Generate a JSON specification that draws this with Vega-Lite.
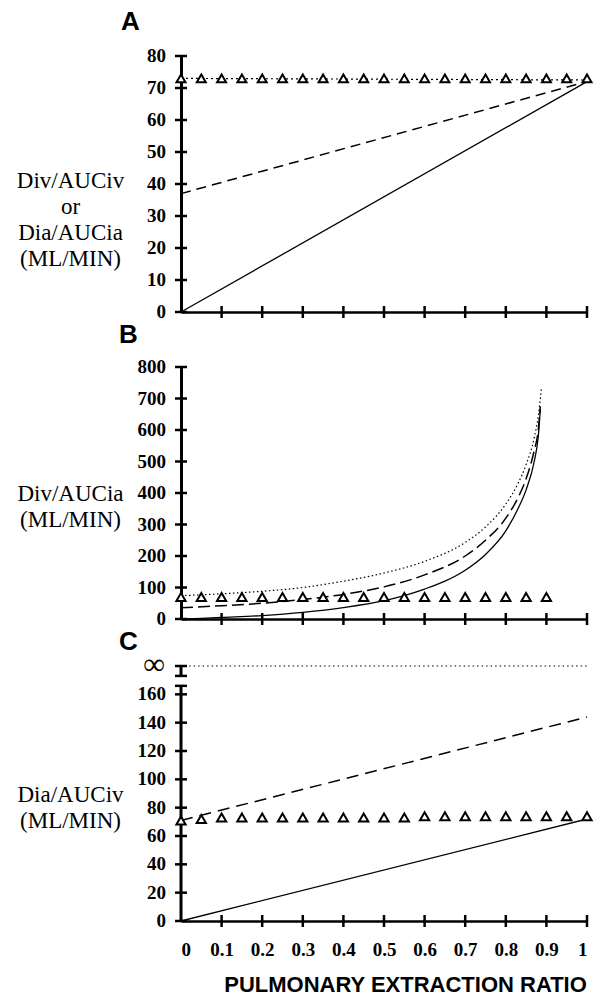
{
  "$schema": "https://vega.github.io/schema/vega-lite/v6.json",
  "background": "white",
  "padding": {"left": 16, "top": 9, "right": 5, "bottom": 0},
  "config": {"view": {"stroke": null}},
  "spacing": 0,
  "datasets": {
    "A": [
      {"e": 0, "v": 0, "s": "solid"}, {"e": 1, "v": 72, "s": "solid"},
      {"e": 0, "v": 37, "s": "dashed"}, {"e": 1, "v": 72, "s": "dashed"},
      {"e": 0, "v": 73, "s": "dotted"}, {"e": 1, "v": 72.5, "s": "dotted"},
      {"e": 0, "v": 73, "s": "tri"}, {"e": 0.05, "v": 73, "s": "tri"}, {"e": 0.1, "v": 73, "s": "tri"}, {"e": 0.15, "v": 73, "s": "tri"},
      {"e": 0.2, "v": 73, "s": "tri"}, {"e": 0.25, "v": 73, "s": "tri"}, {"e": 0.3, "v": 73, "s": "tri"}, {"e": 0.35, "v": 73, "s": "tri"},
      {"e": 0.4, "v": 73, "s": "tri"}, {"e": 0.45, "v": 73, "s": "tri"}, {"e": 0.5, "v": 73, "s": "tri"}, {"e": 0.55, "v": 73, "s": "tri"},
      {"e": 0.6, "v": 73, "s": "tri"}, {"e": 0.65, "v": 73, "s": "tri"}, {"e": 0.7, "v": 73, "s": "tri"}, {"e": 0.75, "v": 73, "s": "tri"},
      {"e": 0.8, "v": 73, "s": "tri"}, {"e": 0.85, "v": 73, "s": "tri"}, {"e": 0.9, "v": 73, "s": "tri"}, {"e": 0.95, "v": 73, "s": "tri"},
      {"e": 1, "v": 73, "s": "tri"},
      {"e": 0, "v": 0, "s": "yt", "t": "0"}, {"e": 0, "v": 10, "s": "yt", "t": "10"}, {"e": 0, "v": 20, "s": "yt", "t": "20"}, {"e": 0, "v": 30, "s": "yt", "t": "30"}, {"e": 0, "v": 40, "s": "yt", "t": "40"},
      {"e": 0, "v": 50, "s": "yt", "t": "50"}, {"e": 0, "v": 60, "s": "yt", "t": "60"}, {"e": 0, "v": 70, "s": "yt", "t": "70"}, {"e": 0, "v": 80, "s": "yt", "t": "80"},
      {"e": 0.1, "v": 0, "s": "xt"}, {"e": 0.2, "v": 0, "s": "xt"}, {"e": 0.3, "v": 0, "s": "xt"}, {"e": 0.4, "v": 0, "s": "xt"}, {"e": 0.5, "v": 0, "s": "xt"},
      {"e": 0.6, "v": 0, "s": "xt"}, {"e": 0.7, "v": 0, "s": "xt"}, {"e": 0.8, "v": 0, "s": "xt"}, {"e": 0.9, "v": 0, "s": "xt"}, {"e": 1, "v": 0, "s": "xt"}
    ],
    "B": [
      {"e": 0, "v": 0, "s": "solid"}, {"e": 0.05, "v": 2, "s": "solid"}, {"e": 0.1, "v": 5, "s": "solid"}, {"e": 0.2, "v": 11, "s": "solid"},
      {"e": 0.3, "v": 21, "s": "solid"}, {"e": 0.4, "v": 36, "s": "solid"}, {"e": 0.5, "v": 58, "s": "solid"}, {"e": 0.6, "v": 95, "s": "solid"},
      {"e": 0.65, "v": 120, "s": "solid"}, {"e": 0.7, "v": 155, "s": "solid"}, {"e": 0.75, "v": 205, "s": "solid"}, {"e": 0.8, "v": 280, "s": "solid"},
      {"e": 0.83, "v": 350, "s": "solid"}, {"e": 0.85, "v": 410, "s": "solid"}, {"e": 0.87, "v": 500, "s": "solid"}, {"e": 0.88, "v": 580, "s": "solid"},
      {"e": 0.885, "v": 665, "s": "solid"},
      {"e": 0, "v": 36, "s": "dashed"}, {"e": 0.1, "v": 42, "s": "dashed"}, {"e": 0.2, "v": 50, "s": "dashed"}, {"e": 0.3, "v": 62, "s": "dashed"},
      {"e": 0.4, "v": 78, "s": "dashed"}, {"e": 0.5, "v": 102, "s": "dashed"}, {"e": 0.6, "v": 140, "s": "dashed"}, {"e": 0.7, "v": 200, "s": "dashed"},
      {"e": 0.75, "v": 250, "s": "dashed"}, {"e": 0.8, "v": 320, "s": "dashed"}, {"e": 0.83, "v": 385, "s": "dashed"}, {"e": 0.85, "v": 445, "s": "dashed"},
      {"e": 0.87, "v": 535, "s": "dashed"}, {"e": 0.88, "v": 600, "s": "dashed"}, {"e": 0.885, "v": 675, "s": "dashed"},
      {"e": 0, "v": 74, "s": "dotted"}, {"e": 0.1, "v": 80, "s": "dotted"}, {"e": 0.2, "v": 88, "s": "dotted"}, {"e": 0.3, "v": 100, "s": "dotted"},
      {"e": 0.4, "v": 120, "s": "dotted"}, {"e": 0.5, "v": 146, "s": "dotted"}, {"e": 0.6, "v": 183, "s": "dotted"}, {"e": 0.7, "v": 243, "s": "dotted"},
      {"e": 0.75, "v": 292, "s": "dotted"}, {"e": 0.8, "v": 365, "s": "dotted"}, {"e": 0.83, "v": 430, "s": "dotted"}, {"e": 0.85, "v": 490, "s": "dotted"},
      {"e": 0.87, "v": 575, "s": "dotted"}, {"e": 0.88, "v": 645, "s": "dotted"}, {"e": 0.888, "v": 735, "s": "dotted"},
      {"e": 0, "v": 70, "s": "tri"}, {"e": 0.05, "v": 70, "s": "tri"}, {"e": 0.1, "v": 70, "s": "tri"}, {"e": 0.15, "v": 70, "s": "tri"},
      {"e": 0.2, "v": 70, "s": "tri"}, {"e": 0.25, "v": 70, "s": "tri"}, {"e": 0.3, "v": 70, "s": "tri"}, {"e": 0.35, "v": 70, "s": "tri"},
      {"e": 0.4, "v": 70, "s": "tri"}, {"e": 0.45, "v": 70, "s": "tri"}, {"e": 0.5, "v": 70, "s": "tri"}, {"e": 0.55, "v": 70, "s": "tri"},
      {"e": 0.6, "v": 70, "s": "tri"}, {"e": 0.65, "v": 70, "s": "tri"}, {"e": 0.7, "v": 70, "s": "tri"}, {"e": 0.75, "v": 70, "s": "tri"},
      {"e": 0.8, "v": 70, "s": "tri"}, {"e": 0.85, "v": 70, "s": "tri"}, {"e": 0.9, "v": 70, "s": "tri"},
      {"e": 0, "v": 0, "s": "yt", "t": "0"}, {"e": 0, "v": 100, "s": "yt", "t": "100"}, {"e": 0, "v": 200, "s": "yt", "t": "200"}, {"e": 0, "v": 300, "s": "yt", "t": "300"}, {"e": 0, "v": 400, "s": "yt", "t": "400"},
      {"e": 0, "v": 500, "s": "yt", "t": "500"}, {"e": 0, "v": 600, "s": "yt", "t": "600"}, {"e": 0, "v": 700, "s": "yt", "t": "700"}, {"e": 0, "v": 800, "s": "yt", "t": "800"},
      {"e": 0.1, "v": 0, "s": "xt"}, {"e": 0.2, "v": 0, "s": "xt"}, {"e": 0.3, "v": 0, "s": "xt"}, {"e": 0.4, "v": 0, "s": "xt"}, {"e": 0.5, "v": 0, "s": "xt"},
      {"e": 0.6, "v": 0, "s": "xt"}, {"e": 0.7, "v": 0, "s": "xt"}, {"e": 0.8, "v": 0, "s": "xt"}, {"e": 0.9, "v": 0, "s": "xt"}, {"e": 1, "v": 0, "s": "xt"}
    ],
    "C": [
      {"e": 0, "v": 0, "s": "solid"}, {"e": 1, "v": 72, "s": "solid"},
      {"e": 0, "v": 71, "s": "dashed"}, {"e": 1, "v": 144, "s": "dashed"},
      {"e": 0.02, "v": 180, "s": "inf"}, {"e": 1, "v": 180, "s": "inf"},
      {"e": 0, "v": 71, "s": "tri"}, {"e": 0.05, "v": 72, "s": "tri"}, {"e": 0.1, "v": 73, "s": "tri"}, {"e": 0.15, "v": 73, "s": "tri"},
      {"e": 0.2, "v": 73, "s": "tri"}, {"e": 0.25, "v": 73, "s": "tri"}, {"e": 0.3, "v": 73, "s": "tri"}, {"e": 0.35, "v": 73, "s": "tri"},
      {"e": 0.4, "v": 73, "s": "tri"}, {"e": 0.45, "v": 73, "s": "tri"}, {"e": 0.5, "v": 73, "s": "tri"}, {"e": 0.55, "v": 73, "s": "tri"},
      {"e": 0.6, "v": 74, "s": "tri"}, {"e": 0.65, "v": 74, "s": "tri"}, {"e": 0.7, "v": 74, "s": "tri"}, {"e": 0.75, "v": 74, "s": "tri"},
      {"e": 0.8, "v": 74, "s": "tri"}, {"e": 0.85, "v": 74, "s": "tri"}, {"e": 0.9, "v": 74, "s": "tri"}, {"e": 0.95, "v": 74, "s": "tri"},
      {"e": 1, "v": 74, "s": "tri"},
      {"e": 0, "v": 0, "s": "yt", "t": "0"}, {"e": 0, "v": 20, "s": "yt", "t": "20"}, {"e": 0, "v": 40, "s": "yt", "t": "40"}, {"e": 0, "v": 60, "s": "yt", "t": "60"}, {"e": 0, "v": 80, "s": "yt", "t": "80"},
      {"e": 0, "v": 100, "s": "yt", "t": "100"}, {"e": 0, "v": 120, "s": "yt", "t": "120"}, {"e": 0, "v": 140, "s": "yt", "t": "140"}, {"e": 0, "v": 160, "s": "yt", "t": "160"},
      {"e": 0, "v": 166, "s": "yt", "t": ""}, {"e": 0, "v": 173, "s": "yt", "t": ""}, {"e": 0, "v": 180, "s": "yt", "t": "∞"},
      {"e": 0.1, "v": 0, "s": "xt"}, {"e": 0.2, "v": 0, "s": "xt"}, {"e": 0.3, "v": 0, "s": "xt"}, {"e": 0.4, "v": 0, "s": "xt"}, {"e": 0.5, "v": 0, "s": "xt"},
      {"e": 0.6, "v": 0, "s": "xt"}, {"e": 0.7, "v": 0, "s": "xt"}, {"e": 0.8, "v": 0, "s": "xt"}, {"e": 0.9, "v": 0, "s": "xt"}, {"e": 1, "v": 0, "s": "xt"}
    ],
    "Caxis": [
      {"e": 0, "v": 0, "v2": 166}, {"e": 0, "v": 173, "v2": 180}
    ]
  },
  "vconcat": [
    {
      "width": 406, "height": 256,
      "title": {"text": "A", "anchor": "start", "frame": "group", "dx": -60, "offset": 12, "fontSize": 26, "font": "Liberation Sans", "fontWeight": "bold", "color": "black"},
      "data": {"name": "A"},
      "layer": [
        {"transform": [{"filter": "datum.s == 'solid'"}], "mark": {"type": "line", "color": "black", "strokeWidth": 1.3},
         "encoding": {
           "x": {"field": "e", "type": "quantitative", "scale": {"domain": [0, 1]},
                 "axis": {"values": [0, 0.1, 0.2, 0.3, 0.4, 0.5, 0.6, 0.7, 0.8, 0.9, 1], "labels": false, "title": null, "grid": false, "domainColor": "black", "domainWidth": 2.5, "tickOpacity": 0, "tickSize": 6}},
           "y": {"field": "v", "type": "quantitative", "scale": {"domain": [0, 80]},
                 "axis": {"values": [0, 10, 20, 30, 40, 50, 60, 70, 80], "labels": false, "grid": false, "domainColor": "black", "domainWidth": 3, "tickOpacity": 0, "tickSize": 6,
                          "title": ["Div/AUCiv", "or", "Dia/AUCia", "(ML/MIN)"], "titleAngle": 0, "titleAlign": "center", "titleBaseline": "middle",
                          "titleX": -111, "titleY": 124, "titleFont": "Liberation Serif", "titleFontSize": 23, "titleFontWeight": "normal", "titleLineHeight": 26, "titleColor": "black"}}
         }},
        {"transform": [{"filter": "datum.s == 'yt'"}], "mark": {"type": "tick", "orient": "horizontal", "size": 12, "thickness": 2.5, "color": "black", "opacity": 1},
         "encoding": {"x": {"field": "e", "type": "quantitative"}, "y": {"field": "v", "type": "quantitative"}}},
        {"transform": [{"filter": "datum.s == 'yt'"}], "mark": {"type": "text", "align": "right", "baseline": "middle", "dx": -15, "font": "Liberation Serif", "fontWeight": "bold", "fontSize": 19, "color": "black"},
         "encoding": {"x": {"field": "e", "type": "quantitative"}, "y": {"field": "v", "type": "quantitative"}, "text": {"field": "t"}}},
        {"transform": [{"filter": "datum.s == 'xt'"}], "mark": {"type": "tick", "orient": "vertical", "size": 12, "thickness": 2.5, "color": "black", "opacity": 1},
         "encoding": {"x": {"field": "e", "type": "quantitative"}, "y": {"field": "v", "type": "quantitative"}}},
        {"transform": [{"filter": "datum.s == 'dashed'"}], "mark": {"type": "line", "color": "black", "strokeWidth": 1.5, "strokeDash": [10, 6]},
         "encoding": {"x": {"field": "e", "type": "quantitative"}, "y": {"field": "v", "type": "quantitative"}}},
        {"transform": [{"filter": "datum.s == 'dotted'"}], "mark": {"type": "line", "color": "black", "strokeWidth": 1.2, "strokeDash": [2, 3]},
         "encoding": {"x": {"field": "e", "type": "quantitative"}, "y": {"field": "v", "type": "quantitative"}}},
        {"transform": [{"filter": "datum.s == 'tri'"}], "mark": {"type": "point", "shape": "triangle-up", "size": 80, "filled": true, "fill": "white", "stroke": "black", "strokeWidth": 2, "opacity": 1},
         "encoding": {"x": {"field": "e", "type": "quantitative"}, "y": {"field": "v", "type": "quantitative"}}}
      ]
    },
    {
      "width": 406, "height": 252,
      "title": {"text": "B", "anchor": "start", "frame": "group", "dx": -62, "offset": 10, "fontSize": 26, "font": "Liberation Sans", "fontWeight": "bold", "color": "black"},
      "data": {"name": "B"},
      "layer": [
        {"transform": [{"filter": "datum.s == 'solid'"}], "mark": {"type": "line", "color": "black", "strokeWidth": 1.3, "interpolate": "monotone"},
         "encoding": {
           "x": {"field": "e", "type": "quantitative", "scale": {"domain": [0, 1]},
                 "axis": {"values": [0, 0.1, 0.2, 0.3, 0.4, 0.5, 0.6, 0.7, 0.8, 0.9, 1], "labels": false, "title": null, "grid": false, "domainColor": "black", "domainWidth": 2.5, "tickOpacity": 0, "tickSize": 6}},
           "y": {"field": "v", "type": "quantitative", "scale": {"domain": [0, 800]},
                 "axis": {"values": [0, 100, 200, 300, 400, 500, 600, 700, 800], "labels": false, "grid": false, "domainColor": "black", "domainWidth": 3, "tickOpacity": 0, "tickSize": 6,
                          "title": ["Div/AUCia", "(ML/MIN)"], "titleAngle": 0, "titleAlign": "center", "titleBaseline": "middle",
                          "titleX": -111, "titleY": 126, "titleFont": "Liberation Serif", "titleFontSize": 23, "titleFontWeight": "normal", "titleLineHeight": 26, "titleColor": "black"}}
         }},
        {"transform": [{"filter": "datum.s == 'yt'"}], "mark": {"type": "tick", "orient": "horizontal", "size": 12, "thickness": 2.5, "color": "black", "opacity": 1},
         "encoding": {"x": {"field": "e", "type": "quantitative"}, "y": {"field": "v", "type": "quantitative"}}},
        {"transform": [{"filter": "datum.s == 'yt'"}], "mark": {"type": "text", "align": "right", "baseline": "middle", "dx": -15, "font": "Liberation Serif", "fontWeight": "bold", "fontSize": 19, "color": "black"},
         "encoding": {"x": {"field": "e", "type": "quantitative"}, "y": {"field": "v", "type": "quantitative"}, "text": {"field": "t"}}},
        {"transform": [{"filter": "datum.s == 'xt'"}], "mark": {"type": "tick", "orient": "vertical", "size": 12, "thickness": 2.5, "color": "black", "opacity": 1},
         "encoding": {"x": {"field": "e", "type": "quantitative"}, "y": {"field": "v", "type": "quantitative"}}},
        {"transform": [{"filter": "datum.s == 'dashed'"}], "mark": {"type": "line", "color": "black", "strokeWidth": 1.5, "strokeDash": [12, 5], "interpolate": "monotone"},
         "encoding": {"x": {"field": "e", "type": "quantitative"}, "y": {"field": "v", "type": "quantitative"}}},
        {"transform": [{"filter": "datum.s == 'dotted'"}], "mark": {"type": "line", "color": "black", "strokeWidth": 1.2, "strokeDash": [1.5, 2.5], "interpolate": "monotone"},
         "encoding": {"x": {"field": "e", "type": "quantitative"}, "y": {"field": "v", "type": "quantitative"}}},
        {"transform": [{"filter": "datum.s == 'tri'"}], "mark": {"type": "point", "shape": "triangle-up", "size": 85, "filled": true, "fill": "white", "stroke": "black", "strokeWidth": 2, "opacity": 1},
         "encoding": {"x": {"field": "e", "type": "quantitative"}, "y": {"field": "v", "type": "quantitative"}}}
      ]
    },
    {
      "width": 406, "height": 255,
      "title": {"text": "C", "anchor": "start", "frame": "group", "dx": -62, "offset": -5, "fontSize": 26, "font": "Liberation Sans", "fontWeight": "bold", "color": "black"},
      "data": {"name": "C"},
      "layer": [
        {"transform": [{"filter": "datum.s == 'solid'"}], "mark": {"type": "line", "color": "black", "strokeWidth": 1.3},
         "encoding": {
           "x": {"field": "e", "type": "quantitative", "scale": {"domain": [0, 1]},
                 "axis": {"values": [0, 0.1, 0.2, 0.3, 0.4, 0.5, 0.6, 0.7, 0.8, 0.9, 1], "labelOverlap": false, "format": "~g", "grid": false, "domainColor": "black", "domainWidth": 2.5, "tickOpacity": 0, "tickSize": 6,
                          "labelFont": "Liberation Serif", "labelFontWeight": "bold", "labelFontSize": 19, "labelColor": "black", "labelPadding": 13,
                          "title": "PULMONARY  EXTRACTION  RATIO", "titleX": 224, "titleFont": "Liberation Sans", "titleFontSize": 22, "titleFontWeight": "bold", "titleColor": "black", "titlePadding": 15}},
           "y": {"field": "v", "type": "quantitative", "scale": {"domain": [0, 180]},
                 "axis": {"values": [0, 20, 40, 60, 80, 100, 120, 140, 160, 180], "labels": false, "domain": false, "grid": false, "tickOpacity": 0, "tickSize": 6,
                          "title": ["Dia/AUCiv", "(ML/MIN)"], "titleAngle": 0, "titleAlign": "center", "titleBaseline": "middle",
                          "titleX": -111, "titleY": 128, "titleFont": "Liberation Serif", "titleFontSize": 23, "titleFontWeight": "normal", "titleLineHeight": 26, "titleColor": "black"}}
         }},
        {"data": {"name": "Caxis"}, "mark": {"type": "rule", "color": "black", "strokeWidth": 3},
         "encoding": {"x": {"field": "e", "type": "quantitative"}, "y": {"field": "v", "type": "quantitative"}, "y2": {"field": "v2"}}},
        {"transform": [{"filter": "datum.s == 'yt'"}], "mark": {"type": "tick", "orient": "horizontal", "size": 12, "thickness": 2.5, "color": "black", "opacity": 1},
         "encoding": {"x": {"field": "e", "type": "quantitative"}, "y": {"field": "v", "type": "quantitative"}}},
        {"transform": [{"filter": "datum.s == 'yt' && datum.t != '∞'"}], "mark": {"type": "text", "align": "right", "baseline": "middle", "dx": -15, "font": "Liberation Serif", "fontWeight": "bold", "fontSize": 19, "color": "black"},
         "encoding": {"x": {"field": "e", "type": "quantitative"}, "y": {"field": "v", "type": "quantitative"}, "text": {"field": "t"}}},
        {"transform": [{"filter": "datum.t == '∞'"}], "mark": {"type": "text", "align": "right", "baseline": "middle", "dx": -16, "dy": -1, "font": "Liberation Serif", "fontWeight": "bold", "fontSize": 30, "color": "black"},
         "encoding": {"x": {"field": "e", "type": "quantitative"}, "y": {"field": "v", "type": "quantitative"}, "text": {"field": "t"}}},
        {"transform": [{"filter": "datum.s == 'xt'"}], "mark": {"type": "tick", "orient": "vertical", "size": 12, "thickness": 2.5, "color": "black", "opacity": 1},
         "encoding": {"x": {"field": "e", "type": "quantitative"}, "y": {"field": "v", "type": "quantitative"}}},
        {"transform": [{"filter": "datum.s == 'dashed'"}], "mark": {"type": "line", "color": "black", "strokeWidth": 1.5, "strokeDash": [12, 7]},
         "encoding": {"x": {"field": "e", "type": "quantitative"}, "y": {"field": "v", "type": "quantitative"}}},
        {"transform": [{"filter": "datum.s == 'inf'"}], "mark": {"type": "line", "color": "black", "strokeWidth": 1.2, "strokeDash": [1.5, 3]},
         "encoding": {"x": {"field": "e", "type": "quantitative"}, "y": {"field": "v", "type": "quantitative"}}},
        {"transform": [{"filter": "datum.s == 'tri'"}], "mark": {"type": "point", "shape": "triangle-up", "size": 85, "filled": true, "fill": "white", "stroke": "black", "strokeWidth": 2, "opacity": 1},
         "encoding": {"x": {"field": "e", "type": "quantitative"}, "y": {"field": "v", "type": "quantitative"}}}
      ]
    }
  ]
}
